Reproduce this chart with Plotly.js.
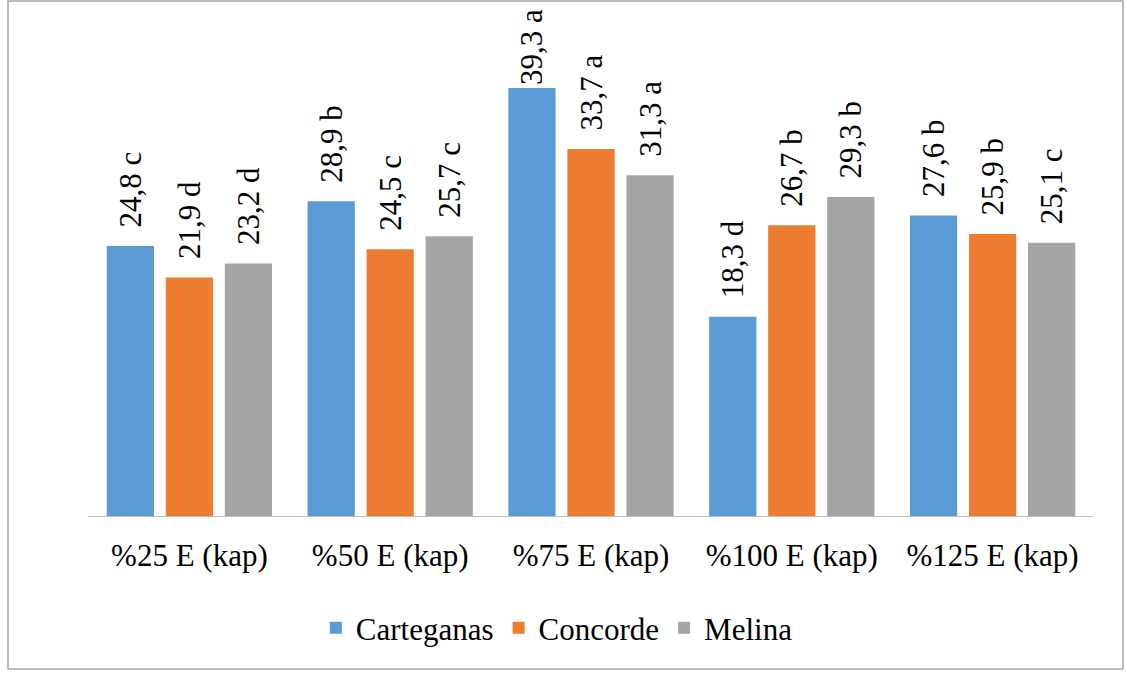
<!DOCTYPE html>
<html>
<head>
<meta charset="utf-8">
<script src="https://cdn.plot.ly/plotly-3.0.1.min.js"></script>
<style>
html,body{margin:0;padding:0;background:#fff;font-family:'Liberation Serif',serif;}
#chart{width:1127px;height:673px;}
html body div#chart svg text{font-family:'Liberation Serif','Times New Roman',serif !important;}
</style>
</head>
<body>
<div id="chart"></div>
<script>
const categories = ['%25 E (kap)', '%50 E (kap)', '%75 E (kap)', '%100 E (kap)', '%125 E (kap)'];
const seriesNames = ['Carteganas', 'Concorde', 'Melina'];
const carteganas = [24.8, 28.9, 39.3, 18.3, 27.6];
const concorde = [21.9, 24.5, 33.7, 26.7, 25.9];
const melina = [23.2, 25.7, 31.3, 29.3, 25.1];
const carteganasLetters = ['c', 'b', 'a', 'd', 'b'];
const concordeLetters = ['d', 'c', 'a', 'b', 'b'];
const melinaLetters = ['d', 'c', 'a', 'b', 'c'];
const colors = ['#5B9BD5', '#ED7D31', '#A5A5A5'];

const FONT = 'Liberation Serif';
const values = [carteganas, concorde, melina];
const letters = [carteganasLetters, concordeLetters, melinaLetters];
const yMax = 45;

function labelText(v, l) {
  return v.toFixed(1).replace('.', ',') + ' ' + l;
}

const traces = values.map((vals, i) => ({
  type: 'bar',
  name: seriesNames[i],
  x: categories,
  y: vals,
  text: vals.map((v, j) => labelText(v, letters[i][j])),
  texttemplate: vals.map(v => (v > yMax * 0.85 ? '' : '\u00a0\u00a0') + '%{text}'),
  textposition: 'outside',
  textangle: -90,
  constraintext: 'none',
  cliponaxis: false,
  textfont: {family: FONT, size: 31, color: '#000'},
  marker: {color: colors[i]},
  hoverinfo: 'none'
}));

const layout = {
  width: 1127,
  height: 673,
  margin: {l: 89, r: 34, t: 26, b: 157},
  paper_bgcolor: '#fff',
  plot_bgcolor: '#fff',
  barmode: 'group',
  bargap: 0.118,
  bargroupgap: 0.2,
  font: {family: FONT, size: 31, color: '#000'},
  showlegend: true,
  legend: {
    orientation: 'h',
    x: 0.466, xanchor: 'center',
    y: -0.2286, yanchor: 'middle',
    font: {family: FONT, size: 31, color: '#000'},
    itemwidth: 30,
    traceorder: 'normal'
  },
  xaxis: {
    type: 'category',
    showline: true,
    linecolor: '#BFBFBF',
    linewidth: 1,
    ticks: '',
    showgrid: false,
    zeroline: false,
    ticklabelstandoff: 12,
    tickfont: {family: FONT, size: 31, color: '#000'}
  },
  yaxis: {
    range: [0, yMax],
    visible: false,
    showgrid: false,
    zeroline: false
  },
  shapes: [{
    type: 'rect',
    xref: 'paper', yref: 'paper',
    x0: -0.0807, x1: 1.0299,
    y0: -0.3122, y1: 1.051,
    line: {color: '#A6A6A6', width: 1.5},
    fillcolor: 'rgba(0,0,0,0)',
    layer: 'below'
  }]
};

function forceSerif() {
  document.querySelectorAll('#chart svg text').forEach(t => {
    t.style.setProperty('font-family', "'Liberation Serif', 'Times New Roman', serif", 'important');
    t.setAttribute('font-family', 'Liberation Serif');
  });
}

Plotly.newPlot('chart', traces, layout, {displayModeBar: false}).then(gd => {
  forceSerif();
  gd.on('plotly_afterplot', forceSerif);
});
</script>
</body>
</html>
